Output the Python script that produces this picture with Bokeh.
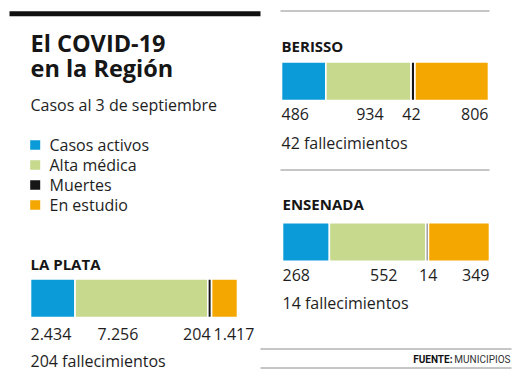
from bokeh.plotting import figure
from bokeh.models import ColumnDataSource, Range1d
from bokeh.core.properties import value
from bokeh.embed import file_html
from bokeh.resources import INLINE

# ---------------- data ----------------
regions = ["LA PLATA", "BERISSO", "ENSENADA"]
categories = ["Casos activos", "Alta médica", "Muertes", "En estudio"]
activos = [2434, 486, 268]
alta = [7256, 934, 552]
muertes = [204, 42, 14]
estudio = [1417, 806, 349]

title_lines = ["El COVID-19", "en la Región"]
subtitle = "Casos al 3 de septiembre"
source_label = ("FUENTE:", "MUNICIPIOS")

# ---------------- styles / layout ----------------
colors = ["#0b9bd9", "#c6d98c", "#161616", "#f3a700"]
TXT = "#1e1e1e"
FONT = "Open Sans"
BAR_W = 207
BAR_H = 38.5
BASE_K = 0.3  # correction: glyph text y is placed at descender bottom

panels = {
    "LA PLATA": dict(x0=30, top=278.5, title=268.3, nums=338, deaths=365),
    "BERISSO": dict(x0=281, top=61.5, title=50, nums=118.5, deaths=147),
    "ENSENADA": dict(x0=282, top=222.3, title=208.3, nums=279, deaths=307.5),
}
# label placement: (anchor, segment index, align, nudge)
label_layout = {
    "LA PLATA": [("start", 0, "left", 0), ("start", 1, "left", 22.5), ("end", 2, "right", -1), ("start", 3, "left", 2)],
    "BERISSO": [("start", 0, "left", 0), ("end", 1, "right", -27.5), ("mid", 2, "center", -1.5), ("end", 3, "right", 0)],
    "ENSENADA": [("start", 0, "left", 0), ("end", 1, "right", -28.5), ("mid", 2, "center", 1), ("end", 3, "right", 0)],
}


def fmt(v):
    return f"{v:,}".replace(",", ".")


p = figure(width=529, height=378, x_range=Range1d(0, 529), y_range=Range1d(378, 0),
           output_backend="svg", toolbar_location=None, min_border=0,
           x_axis_location=None, y_axis_location=None, outline_line_color=None,
           background_fill_color="white", border_fill_color="white")
p.grid.visible = False


def add_text(xs, ys, texts, size, bold=False, align="left", color=TXT, font=FONT):
    shift = BASE_K * size
    src = ColumnDataSource(dict(x=xs, y=[y - shift for y in ys], t=texts))
    p.text("x", "y", text="t", source=src, text_font=value(font),
           text_font_size=value(f"{size}px"), text_font_style="bold" if bold else "normal",
           text_align=align, text_baseline="alphabetic", text_color=color)


# decorative rules
p.segment(x0=[9], y0=[13.2], x1=[260], y1=[13.2], line_color="#111111", line_width=5)
p.segment(x0=[280, 280, 260, 260], y0=[10.5, 169.5, 348.5, 367.5],
          x1=[489, 489, 511, 511], y1=[10.5, 169.5, 348.5, 367.5],
          line_color="#8c8c8c", line_width=1)

# title block
add_text([30, 30], [50, 75], title_lines, 23.5, bold=True, color="#161616")
add_text([30], [109.3], [subtitle], 16)

# legend
leg_base = [149.3, 169.3, 189.3, 209.3]
p.rect(x=[34.7] * 4, y=[b - 4.8 for b in leg_base], width=10, height=9.6,
       fill_color=colors, line_color=None)
add_text([49] * 4, leg_base, categories, 16)

# bars
series = [activos, alta, muertes, estudio]
for i, reg in enumerate(regions):
    lay = panels[reg]
    vals = [s[i] for s in series]
    total = sum(vals)
    lefts, rights = [], []
    acc = 0
    for v in vals:
        lefts.append(lay["x0"] + BAR_W * acc / total)
        acc += v
        rights.append(lay["x0"] + BAR_W * acc / total)
    src = ColumnDataSource(dict(left=lefts, right=rights,
                                top=[lay["top"]] * 4, bottom=[lay["top"] + BAR_H] * 4,
                                color=colors))
    p.quad(left="left", right="right", top="top", bottom="bottom", fill_color="color",
           line_color="white", line_width=1.6, source=src)

    add_text([lay["x0"]], [lay["title"]], [reg], 15, bold=True, color="#161616")
    for j, (anchor, k, align, dx) in enumerate(label_layout[reg]):
        if anchor == "start":
            x = lefts[k]
        elif anchor == "end":
            x = rights[k]
        else:
            x = (lefts[k] + rights[k]) / 2
        add_text([x + dx], [lay["nums"]], [fmt(vals[j])], 16, align=align)
    add_text([lay["x0"]], [lay["deaths"]], [f"{fmt(vals[2])} fallecimientos"], 16)

# source
add_text([510], [361.7], [source_label[1]], 10, align="right", color="#333333", font="Roboto")
add_text([452], [361.7], [source_label[0]], 10, bold=True, align="right", color="#111111", font="Roboto")

open("out.html", "w").write(file_html(p, INLINE))
